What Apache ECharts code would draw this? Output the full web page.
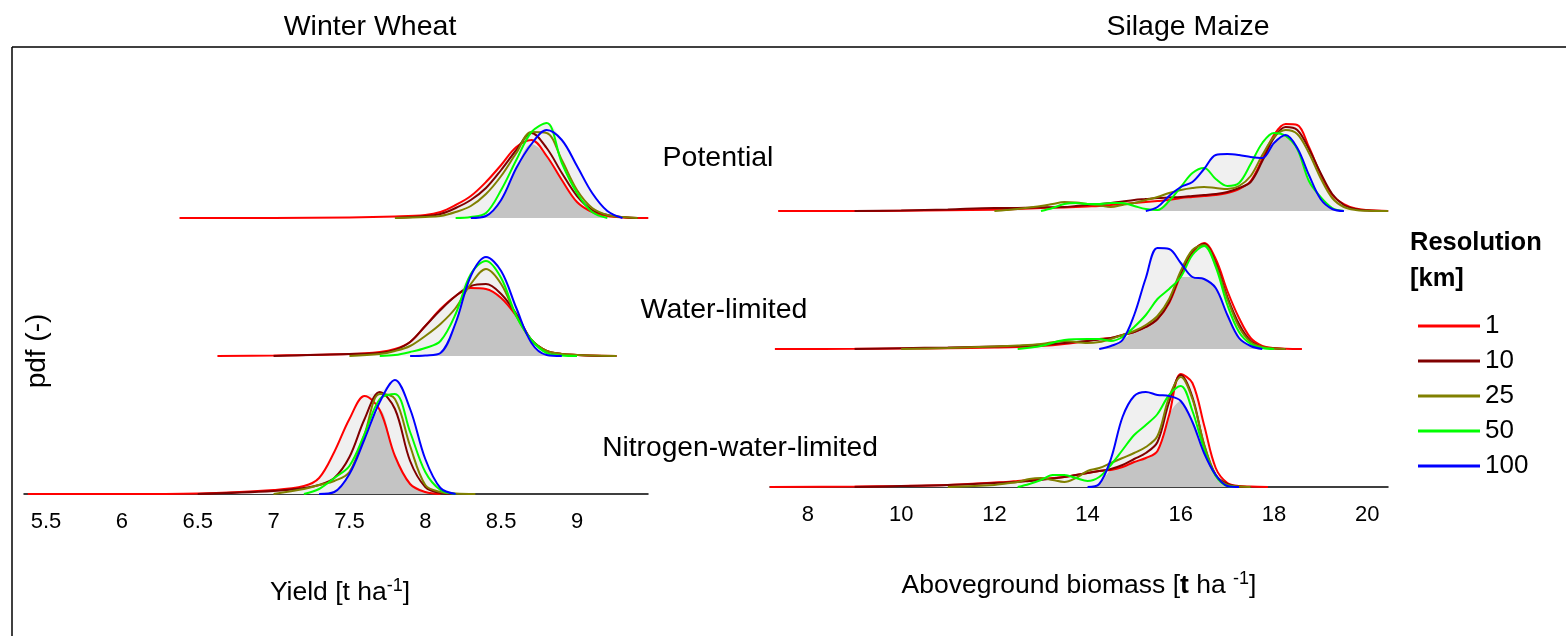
<!DOCTYPE html>
<html><head><meta charset="utf-8">
<script src="https://cdn.jsdelivr.net/npm/echarts@6/dist/echarts.min.js"></script>
<style>html,body{margin:0;padding:0;background:#fff}#c{width:1566px;height:636px}</style>
</head><body><div id="c"></div>
<script>
// ---------------- data ----------------
const resolutions = ['1', '10', '25', '50', '100'];
const wheatTicks = [5.5, 6, 6.5, 7, 7.5, 8, 8.5, 9];
const maizeTicks = [8, 10, 12, 14, 16, 18, 20];

// Winter wheat – Potential (yield t/ha, relative pdf)
const wheatPotX   = [6.38, 7.0, 7.5, 7.8, 8.0, 8.1, 8.2, 8.3, 8.4, 8.5, 8.6, 8.7, 8.8, 8.9, 9.0, 9.1, 9.2, 9.3, 9.4, 9.47];
const wheatPot1   = [0, 0, 0.5, 1.5, 3, 6, 13, 22, 36, 53, 71, 78, 62, 38, 16, 6, 2, 0.5, 0, 0];
const wheatPot10  = [null, null, null, 0, 2, 4, 10, 18, 30, 48, 68, 85, 70, 45, 22, 8, 3, 1, 0, null];
const wheatPot25  = [null, null, null, 0, 1, 2, 6, 12, 24, 42, 65, 86, 85, 58, 28, 10, 3, 1, 0, null];
const wheatPot50  = [null, null, null, null, null, null, 0, 1, 5, 28, 58, 86, 95, 55, 25, 6, 0, null, null, null];
const wheatPot100 = [null, null, null, null, null, null, null, 0, 2, 18, 50, 74, 88, 78, 52, 25, 7, 0, null, null];

// Winter wheat – Water-limited
const wheatWatX   = [6.63, 7.0, 7.5, 7.7, 7.8, 7.9, 8.0, 8.1, 8.2, 8.3, 8.4, 8.5, 8.6, 8.7, 8.8, 8.9, 9.0, 9.1, 9.26];
const wheatWat1   = [0, 0.5, 2, 4, 7, 14, 30, 47, 60, 68, 67, 58, 40, 16, 5, 2, 1, 0.5, 0];
const wheatWat10  = [null, 0, 2, 3, 6, 14, 30, 46, 60, 70, 72, 62, 42, 16, 5, 2, 1, 0.3, 0];
const wheatWat25  = [null, null, 0, 2, 5, 10, 20, 32, 48, 72, 87, 72, 40, 16, 5, 2, 1, 0.5, 0];
const wheatWat50  = [null, null, null, 0, 1, 4, 8, 15, 42, 82, 95, 78, 40, 16, 3, 0.5, 0, null, null];
const wheatWat100 = [null, null, null, null, null, 0, 0.5, 3, 33, 80, 99, 85, 48, 13, 1, 0, null, null, null];

// Winter wheat – Nitrogen-water-limited
const wheatNitX   = [5.38, 6.0, 6.5, 7.0, 7.2, 7.3, 7.4, 7.5, 7.6, 7.7, 7.8, 7.9, 8.0, 8.1, 8.2, 8.33];
const wheatNit1   = [0, 0, 0.5, 4, 8, 16, 42, 75, 98, 84, 38, 10, 2, 0, null, null];
const wheatNit10  = [null, null, 0, 3, 6, 9, 16, 37, 75, 102, 85, 33, 7, 1, 0, null];
const wheatNit25  = [null, null, null, 0, 5, 9, 13, 22, 60, 100, 95, 48, 9, 2, 0.5, 0];
const wheatNit50  = [null, null, null, null, 0, 5, 16, 28, 60, 95, 100, 62, 22, 4, 0, null];
const wheatNit100 = [null, null, null, null, null, 0, 2, 20, 55, 92, 114, 85, 35, 6, 0, null];

// Silage maize – Potential (aboveground biomass t/ha)
const maizePotX   = [7.36, 9, 10, 11, 12, 12.25, 12.5, 12.75, 13, 13.25, 13.5, 13.75, 14, 14.25, 14.5, 14.75, 15, 15.25, 15.5, 15.75, 16, 16.25, 16.5, 16.75, 17, 17.25, 17.5, 17.75, 18, 18.25, 18.5, 18.75, 19, 19.25, 19.5, 19.75, 20, 20.45];
const maizePot1   = [0, 0, 0.3, 0.7, 1.3, 1.6, 2, 2.5, 3, 3.3, 3.6, 4, 4.5, 5, 6, 7, 8, 9, 10, 11, 13, 14, 15, 16, 18, 22, 30, 52, 76, 87, 86, 64, 37, 16, 7, 2.5, 1, 0];
const maizePot10  = [null, 0, 0.5, 1.5, 3, 3, 3, 3.3, 3.5, 3.8, 4, 5, 6, 7, 8, 9.5, 11, 12, 13, 13.5, 14, 15, 16, 17, 19, 23, 29, 50, 73, 84, 81, 62, 38, 17, 6, 2, 0.5, 0];
const maizePot25  = [null, null, null, null, 0, 1, 2, 3.5, 5, 7, 9, 8.5, 7, 5.5, 4, 6, 8, 11, 14, 18, 21, 23, 24, 23, 22, 25, 35, 56, 74, 81, 77, 58, 33, 13, 4, 1, 0.3, 0];
const maizePot50  = [null, null, null, null, null, null, null, null, 0, 3, 7, 8, 7, 7, 8, 8, 5, 2, 1, 10, 24, 38, 43, 32, 25, 28, 47, 68, 78, 75, 62, 30, 14, 3, 0, null, null, null];
const maizePot100 = [null, null, null, null, null, null, null, null, null, null, null, null, null, null, null, null, null, 0, 4, 15, 24, 29, 42, 56, 57, 56, 54, 53, 68, 76, 63, 36, 12, 2, 0, null, null, null];

// Silage maize – Water-limited
const maizeWatX   = [7.29, 9, 10, 11, 12, 12.5, 13, 13.5, 14, 14.25, 14.5, 14.75, 15, 15.25, 15.5, 15.75, 16, 16.25, 16.5, 16.75, 17, 17.25, 17.5, 17.75, 18, 18.25, 18.6];
const maizeWat1   = [0, 0.2, 0.5, 0.8, 1.5, 2, 3, 5, 8, 10, 11, 14, 17, 22, 30, 46, 74, 96, 106, 90, 58, 31, 11, 3, 1, 0.3, 0];
const maizeWat10  = [null, 0, 0.8, 1.5, 2.5, 3, 4, 6, 8, 9.5, 11, 14, 17, 22, 30, 47, 76, 98, 105, 86, 52, 25, 8, 2, 0.5, 0, null];
const maizeWat25  = [null, null, 0, 1, 2.5, 3.5, 5, 8, 6, 7, 10, 14, 18, 24, 33, 50, 78, 99, 104, 84, 50, 22, 7, 2, 0.5, 0, null];
const maizeWat50  = [null, null, null, null, null, 0, 3, 9, 10, 10, 8, 12, 22, 34, 50, 60, 72, 94, 103, 82, 44, 17, 5, 1, 0, null, null];
const maizeWat100 = [null, null, null, null, null, null, null, null, null, 0, 3, 9, 34, 71, 101, 100, 86, 72, 70, 61, 34, 11, 3, 0, null, null, null];

// Silage maize – Nitrogen-water-limited
const maizeNitX   = [7.18, 9, 10, 11, 12, 12.25, 12.5, 12.75, 13, 13.25, 13.5, 13.75, 14, 14.25, 14.5, 14.75, 15, 15.25, 15.5, 15.75, 16, 16.25, 16.5, 16.75, 17, 17.25, 17.5, 17.87];
const maizeNit1   = [0, 0.5, 1, 2, 4.5, 5, 6, 7, 8, 9, 10, 12, 14, 16, 17, 20, 25, 29, 36, 72, 113, 104, 62, 19, 4, 1, 0.5, 0];
const maizeNit10  = [null, 0, 1, 2, 4, 4.5, 5, 6, 7, 8.5, 10, 12, 14, 16, 18, 22, 28, 34, 45, 85, 112, 90, 42, 12, 3, 0.5, 0, null];
const maizeNit25  = [null, null, null, 0, 2, 3.5, 5, 8, 9, 7, 5, 9, 16, 19, 24, 29, 34, 40, 51, 90, 110, 88, 43, 12, 2, 0.5, 0, null];
const maizeNit50  = [null, null, null, null, null, null, 0, 3, 7, 12, 12, 9, 6, 10, 22, 37, 52, 62, 73, 92, 101, 76, 38, 11, 1, 0, null, null];
const maizeNit100 = [null, null, null, null, null, null, null, null, null, null, null, null, 0, 3, 28, 70, 91, 95, 92, 91, 86, 65, 34, 12, 1, 0, null, null];

// ---------------- layout / style ----------------
const FONT = "'Liberation Sans', Arial, Helvetica, sans-serif";
const lineColors = ['#ff0000', '#800000', '#808000', '#00ff00', '#0000ff'];
const SM = 0.35;

const ridges = [
  { x: wheatPotX, ys: [wheatPot1, wheatPot10, wheatPot25, wheatPot50, wheatPot100] },
  { x: wheatWatX, ys: [wheatWat1, wheatWat10, wheatWat25, wheatWat50, wheatWat100] },
  { x: wheatNitX, ys: [wheatNit1, wheatNit10, wheatNit25, wheatNit50, wheatNit100] },
  { x: maizePotX, ys: [maizePot1, maizePot10, maizePot25, maizePot50, maizePot100] },
  { x: maizeWatX, ys: [maizeWat1, maizeWat10, maizeWat25, maizeWat50, maizeWat100] },
  { x: maizeNitX, ys: [maizeNit1, maizeNit10, maizeNit25, maizeNit50, maizeNit100] }
];

const RH = 130; // ridge grid height in px (1 density unit = 1 px)
const grids = [
  { left: 24,  width: 624, top: 218 - RH, height: RH },
  { left: 24,  width: 624, top: 356 - RH, height: RH },
  { left: 24,  width: 624, top: 494 - RH, height: RH },
  { left: 770, width: 618, top: 211 - RH, height: RH },
  { left: 770, width: 618, top: 349 - RH, height: RH },
  { left: 770, width: 618, top: 487 - RH, height: RH }
];

const xAxes = grids.map((g, i) => {
  const wheat = i < 3;
  const bottom = i === 2 || i === 5;
  return {
    type: 'value', gridIndex: i,
    min: wheat ? 5.355 : 7.185, max: wheat ? 9.468 : 20.447,
    offset: bottom ? 8 : 0,
    axisLine: { show: bottom, lineStyle: { color: '#000', width: 1.5 } },
    axisTick: { show: false },
    splitLine: { show: false },
    axisLabel: {
      show: bottom, customValues: wheat ? wheatTicks : maizeTicks,
      fontSize: 22, color: '#000', fontFamily: FONT, margin: 9
    }
  };
});
const yAxes = grids.map((g, i) => ({ type: 'value', gridIndex: i, min: 0, max: RH, show: false }));

const series = [];
ridges.forEach((r, gi) => {
  const env = r.x.map((x, k) => {
    const vals = r.ys.map(y => (y[k] == null ? 0 : y[k]));
    return [x, Math.min.apply(null, vals), Math.max.apply(null, vals)];
  });
  series.push({
    type: 'line', xAxisIndex: gi, yAxisIndex: gi, silent: true, z: 1,
    data: env.map(e => [e[0], e[2]]), smooth: SM, symbol: 'none',
    lineStyle: { width: 0, opacity: 0 }, areaStyle: { color: '#f0f0f0', opacity: 1 }
  });
  series.push({
    type: 'line', xAxisIndex: gi, yAxisIndex: gi, silent: true, z: 1,
    data: env.map(e => [e[0], e[1]]), smooth: SM, symbol: 'none',
    lineStyle: { width: 0, opacity: 0 }, areaStyle: { color: '#c4c4c4', opacity: 1 }
  });
  r.ys.forEach((y, si) => {
    series.push({
      type: 'line', name: resolutions[si], xAxisIndex: gi, yAxisIndex: gi, z: 2,
      data: r.x.map((x, k) => [x, y[k]]), smooth: SM, symbol: 'none', showSymbol: false,
      lineStyle: { color: lineColors[si], width: 2 }, itemStyle: { color: lineColors[si] }
    });
  });
});

function txt(x, y, text, size, extra) {
  return Object.assign({
    type: 'text', x: x, y: y, silent: true,
    style: { text: text, fill: '#000', fontSize: size, fontFamily: FONT, align: 'center', verticalAlign: 'middle' }
  }, extra || {});
}

const graphics = [
  { type: 'line', silent: true, shape: { x1: 12, y1: 47, x2: 1566, y2: 47 }, style: { stroke: '#000', lineWidth: 1.5 } },
  { type: 'line', silent: true, shape: { x1: 12, y1: 47, x2: 12, y2: 636 }, style: { stroke: '#000', lineWidth: 1.5 } },
  txt(370, 27, 'Winter Wheat', 28.5),
  txt(1188, 27, 'Silage Maize', 28.5),
  txt(718, 158, 'Potential', 28.5),
  txt(724, 310, 'Water-limited', 28.5),
  txt(740, 448, 'Nitrogen-water-limited', 28.2),
  txt(37, 351, 'pdf (-)', 28, { rotation: Math.PI / 2 }),
  {
    type: 'text', x: 340, y: 593, silent: true,
    style: {
      text: 'Yield [t ha{sup|-1}]', fill: '#000', fontSize: 26.5, fontFamily: FONT,
      align: 'center', verticalAlign: 'middle', lineHeight: 32,
      rich: { sup: { fontSize: 18, lineHeight: 18, verticalAlign: 'top', fill: '#000', fontFamily: FONT } }
    }
  },
  {
    type: 'text', x: 1079, y: 586, silent: true,
    style: {
      text: 'Aboveground biomass [{b|t} ha {sup|-1}]', fill: '#000', fontSize: 26.5, fontFamily: FONT,
      align: 'center', verticalAlign: 'middle', lineHeight: 32,
      rich: {
        b: { fontSize: 26.5, fontWeight: 'bold', fill: '#000', fontFamily: FONT, lineHeight: 32 },
        sup: { fontSize: 18, lineHeight: 18, verticalAlign: 'top', fill: '#000', fontFamily: FONT }
      }
    }
  },
  { type: 'text', x: 1410, y: 243, silent: true,
    style: { text: 'Resolution', fill: '#000', fontSize: 25.5, fontWeight: 'bold', fontFamily: FONT, align: 'left', verticalAlign: 'middle' } },
  { type: 'text', x: 1410, y: 279, silent: true,
    style: { text: '[km]', fill: '#000', fontSize: 25.5, fontWeight: 'bold', fontFamily: FONT, align: 'left', verticalAlign: 'middle' } }
];

const chart = echarts.init(document.getElementById('c'), null, { renderer: 'canvas' });
chart.setOption({
  animation: false,
  backgroundColor: '#fff',
  grid: grids,
  xAxis: xAxes,
  yAxis: yAxes,
  legend: {
    data: resolutions, orient: 'vertical', left: 1418, top: 313, padding: 0,
    icon: 'rect', itemWidth: 62, itemHeight: 3, itemGap: 9, selectedMode: false,
    textStyle: { fontSize: 26, color: '#000', fontFamily: FONT, lineHeight: 26 }
  },
  series: series,
  graphic: graphics
});
</script>
</body></html>
